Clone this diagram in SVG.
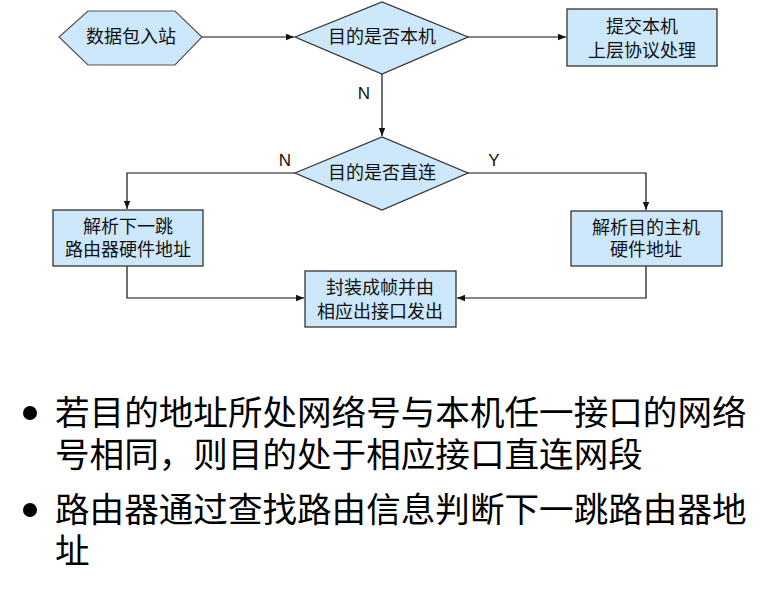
<svg xmlns="http://www.w3.org/2000/svg" width="777" height="590" viewBox="0 0 777 590">
<style>
.n{fill:#cde8fa;stroke:#333;stroke-width:1.3}
.h{fill:#cde8fa;stroke:#555;stroke-width:1.2}
.t{font-family:"Liberation Sans","Noto Sans CJK SC",sans-serif;font-size:18px;fill:#111;text-anchor:middle}
.l{font-family:"Liberation Sans","Noto Sans CJK SC",sans-serif;font-size:17px;fill:#111;text-anchor:middle}
.c{fill:none;stroke:#111;stroke-width:1.2;marker-end:url(#a)}
.b{font-family:"Liberation Sans","Noto Sans CJK SC",sans-serif;font-size:34.6px;fill:#000}
</style>
<defs>
<marker id="a" viewBox="0 0 10 10" refX="10" refY="5" markerWidth="8" markerHeight="8" markerUnits="userSpaceOnUse" orient="auto">
<path d="M0,1 L10,5 L0,9 z" fill="#111"/>
</marker>
</defs>
<rect width="777" height="590" fill="#fff"/>
<g id="connectors">
<path class="c" d="M202,37 H294"/>
<path class="c" d="M468,37 H566"/>
<path class="c" d="M382,74 V136"/>
<path class="c" d="M295,173 H127 V209"/>
<path class="c" d="M468,173 H646 V210"/>
<path class="c" d="M127,266 V298 H304"/>
<path class="c" d="M646,266 V298 H457"/>
<text class="l" x="364" y="99">N</text>
<text class="l" x="285" y="166">N</text>
<text class="l" x="494" y="166">Y</text>
</g>
<g id="start">
<polygon class="h" points="59,37 88,11 175,11 202,37 175,65 88,65"/>
<text class="t" x="131" y="43">数据包入站</text>
</g>
<g id="dec1">
<polygon class="n" points="295,37 382,2 468,37 382,74"/>
<text class="t" x="382" y="43">目的是否本机</text>
</g>
<g id="submit">
<rect class="n" x="567" y="9" width="150" height="57"/>
<text class="t" x="642" y="33">提交本机</text>
<text class="t" x="642" y="57">上层协议处理</text>
</g>
<g id="dec2">
<polygon class="n" points="295,173 382,137 468,173 382,210"/>
<text class="t" x="382" y="179">目的是否直连</text>
</g>
<g id="nexthop">
<rect class="n" x="53" y="210" width="150" height="56"/>
<text class="t" x="128" y="233">解析下一跳</text>
<text class="t" x="128" y="256">路由器硬件地址</text>
</g>
<g id="host">
<rect class="n" x="571" y="211" width="151" height="55"/>
<text class="t" x="646" y="234">解析目的主机</text>
<text class="t" x="646" y="256">硬件地址</text>
</g>
<g id="frame">
<rect class="n" x="305" y="271" width="151" height="56"/>
<text class="t" x="380" y="294">封装成帧并由</text>
<text class="t" x="380" y="318">相应出接口发出</text>
</g>
<g id="bullets">
<circle cx="30" cy="413" r="7" fill="#000"/>
<text class="b" x="55" y="425">若目的地址所处网络号与本机任一接口的网络</text>
<text class="b" x="55" y="467">号相同，则目的处于相应接口直连网段</text>
<circle cx="30" cy="510" r="7" fill="#000"/>
<text class="b" x="55" y="522">路由器通过查找路由信息判断下一跳路由器地</text>
<text class="b" x="55" y="563">址</text>
</g>
</svg>
